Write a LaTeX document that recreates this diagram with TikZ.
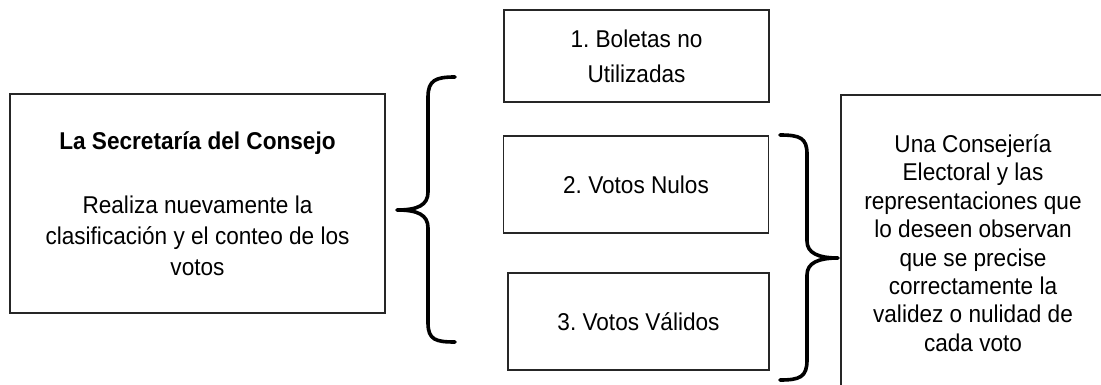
\documentclass[tikz,border=0pt]{standalone}
\usepackage{fontspec}
\setmainfont{Liberation Sans}[FakeStretch=0.93]
\frenchspacing
\begin{document}
\begin{tikzpicture}[x=1pt,y=-1pt,
  box/.style={draw=black!85, line width=1.4pt, inner sep=0pt, align=center, font=\fontsize{24.3}{29}\selectfont},
  bracepath/.style={draw=black, line width=3.6pt, line cap=round, line join=round}]
\clip (0,0) rectangle (1101,385);
\fill[white] (0,0) rectangle (1101,385);
% left box
\node[box, minimum width=375pt, minimum height=219pt, font=\fontsize{24.3}{31}\selectfont] (sec) at (197.5,203.5)
  {\textbf{La Secretaría del Consejo}\\[33pt]
   Realiza nuevamente la\\ clasificación y el conteo de los\\ votos};
% middle boxes
\node[box, minimum width=265pt, minimum height=92pt, font=\fontsize{24.3}{35}\selectfont] (b1) at (636.5,56) {1. Boletas no\\ Utilizadas};
\node[box, minimum width=265pt, minimum height=97pt] (b2) at (636,184.5) {2. Votos Nulos};
\node[box, minimum width=261pt, minimum height=97pt] (b3) at (638.5,321.5) {3. Votos Válidos};
% right box
\node[box, minimum width=264pt, minimum height=296pt, font=\fontsize{24.3}{28.4}\selectfont] (obs) at (973,243)
  {Una Consejería\\ Electoral y las\\ representaciones que\\ lo deseen observan\\ que se precise\\ correctamente la\\ validez o nulidad de\\ cada voto};
% left brace
\coordinate (lt) at (455,77);
\coordinate (lm) at (397,210);
\coordinate (lb) at (455,342);
\draw[bracepath] (lt) .. controls (436,77) and (428,80) .. (428,97) -- (428,192)
  .. controls (428,205) and (418,210) .. (lm)
  .. controls (418,210) and (428,215) .. (428,228) -- (428,323)
  .. controls (428,340) and (436,342) .. (lb);
% right brace
\coordinate (rt) at (780,135);
\coordinate (rm) at (838,258);
\coordinate (rb) at (780,380);
\draw[bracepath] (rt) .. controls (800,135) and (807,138) .. (807,154) -- (807,241)
  .. controls (807,253) and (818,258) .. (rm)
  .. controls (818,258) and (807,263) .. (807,275) -- (807,360)
  .. controls (807,377) and (800,380) .. (rb);
\end{tikzpicture}
\end{document}
